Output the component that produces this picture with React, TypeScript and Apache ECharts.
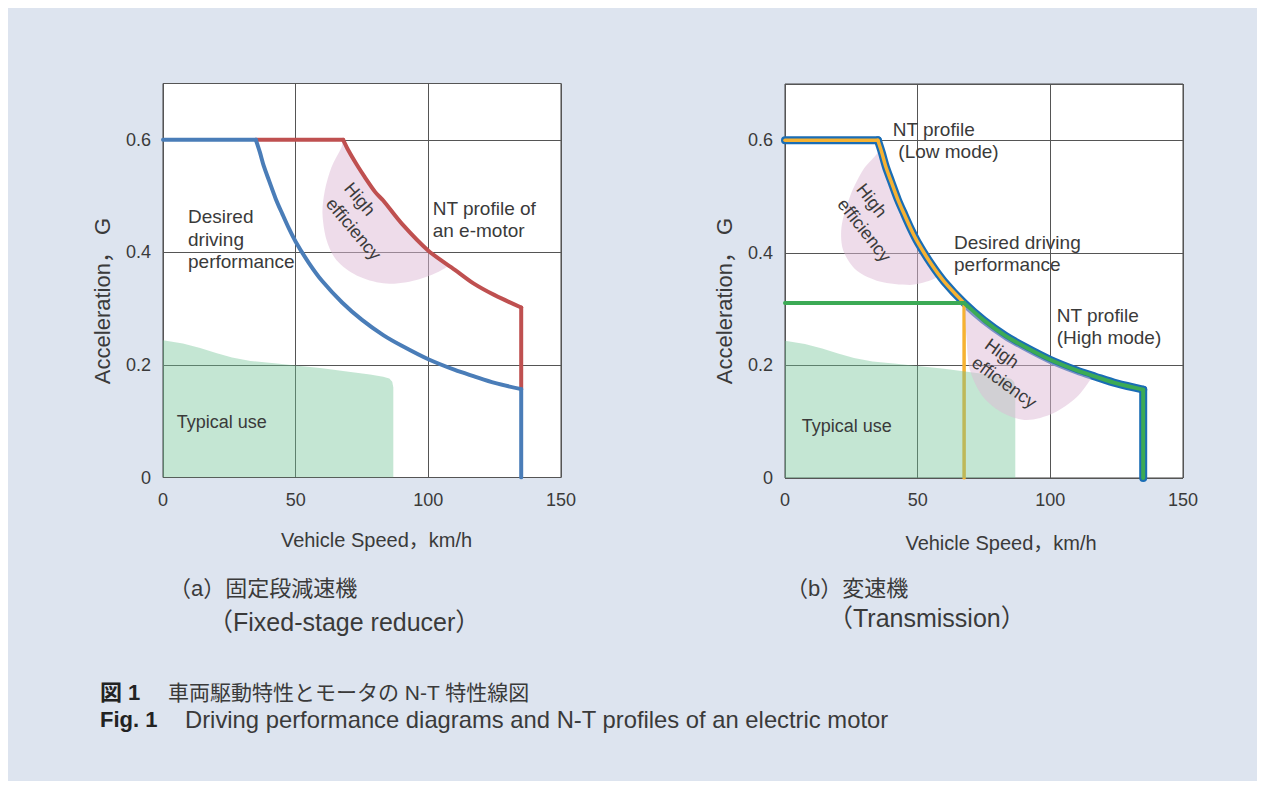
import React, { useEffect, useRef } from "react";
import * as echarts from "echarts";

// ---- data (km/h, G) ----
const speedTicks = [0, 50, 100, 150];
const accelTicks = [0, 0.2, 0.4, 0.6];
const accelMax = 0.7;

// desired driving performance (left chart, blue)
const desired: number[][] = [
  [0, 0.6], [35, 0.6], [36.5, 0.578], [38, 0.553], [40, 0.527], [42.5, 0.495], [45, 0.468],
  [47.5, 0.442], [50, 0.419], [55, 0.381], [60, 0.349], [67.5, 0.311], [75, 0.28], [83, 0.253],
  [90, 0.234], [100, 0.21], [110, 0.191], [117, 0.18], [125, 0.168], [135, 0.157], [135, 0],
];
// NT profile of an e-motor (left chart, red)
const motorNT: number[][] = [
  [35, 0.6], [67.9, 0.6], [70, 0.58], [73, 0.556], [76, 0.534], [80, 0.507], [83, 0.492],
  [90, 0.451], [100, 0.403], [110, 0.369], [117, 0.345], [125, 0.324], [135, 0.302], [135, 0.158],
];
// transmission: low mode (orange) and high mode (green)
const lowMode: number[][] = [
  [0, 0.6], [35, 0.6], [36.5, 0.578], [38, 0.553], [40, 0.527], [42.5, 0.495], [45, 0.468],
  [47.5, 0.442], [50, 0.419], [55, 0.381], [60, 0.349], [67.5, 0.311], [67.5, 0],
];
const highMode: number[][] = [
  [0, 0.311], [67.5, 0.311], [75, 0.28], [83, 0.253], [90, 0.234], [100, 0.21], [110, 0.191],
  [117, 0.18], [125, 0.168], [135, 0.157], [135, 0],
];
// typical use region
const typicalUse: number[][] = [
  [0, 0], [0, 0.244], [7.5, 0.238], [14, 0.23], [20, 0.221], [26, 0.213], [33, 0.207], [42, 0.203],
  [50, 0.199], [60, 0.194], [70, 0.188], [78, 0.183], [83, 0.179], [85.3, 0.176], [86.4, 0.17],
  [86.8, 0.16], [86.8, 0],
];
// high efficiency regions
const effMotor: number[][] = [
  [67.3, 0.587], [63.5, 0.551], [61.0, 0.51], [60.1, 0.469], [61.7, 0.421], [65.4, 0.386],
  [73, 0.359], [83, 0.345], [91.8, 0.347], [100.6, 0.359], [106.9, 0.374], [106.9, 0.381],
  [100, 0.403], [90, 0.451], [83, 0.492], [76, 0.534], [70, 0.58], [67.9, 0.6],
];
const effLow: number[][] = [
  [36, 0.588], [34.5, 0.575], [29.4, 0.547], [24.4, 0.499], [21.3, 0.446], [21.9, 0.405],
  [26.9, 0.369], [35.7, 0.349], [47.1, 0.343], [53.4, 0.349], [57.1, 0.357], [56.5, 0.368],
  [49.5, 0.419], [44.5, 0.468], [39.5, 0.527], [36.5, 0.57],
];
const effHigh: number[][] = [
  [67.8, 0.302], [68.4, 0.251], [69.7, 0.192], [74.7, 0.144], [82.3, 0.115], [91.1, 0.103],
  [101.1, 0.115], [110, 0.144], [115, 0.174], [115, 0.178], [110, 0.186], [100, 0.205],
  [90, 0.229], [83, 0.248], [75, 0.275], [68.5, 0.302],
];

const FONT = "'Liberation Sans', 'Noto Sans CJK JP', sans-serif";
const TXT = "#3a3a3a";

function polygon(idx: number, pts: number[][], fill: string, z: number, smooth = 0) {
  return {
    type: "custom",
    xAxisIndex: idx,
    yAxisIndex: idx,
    z,
    silent: true,
    clip: true,
    data: [[0, 0]],
    renderItem: (_p: any, api: any) => ({
      type: "polygon",
      shape: { points: pts.map((p) => api.coord(p)), smooth },
      style: { fill },
    }),
  };
}

// split a path into straight (flat / vertical) runs and curved runs
function splitPath(pts: number[][]) {
  const segs: { pts: number[][]; curved: boolean }[] = [];
  for (let i = 0; i < pts.length - 1; i++) {
    const a = pts[i];
    const b = pts[i + 1];
    const curved = a[0] !== b[0] && a[1] !== b[1];
    const last = segs[segs.length - 1];
    if (last && last.curved === curved) last.pts.push(b);
    else segs.push({ pts: [a, b], curved });
  }
  return segs;
}

function lines(idx: number, pts: number[][], color: string, width: number, z: number) {
  return splitPath(pts).map((s) => ({
    type: "line",
    xAxisIndex: idx,
    yAxisIndex: idx,
    z,
    silent: true,
    data: s.pts,
    symbol: "none",
    showSymbol: false,
    smooth: s.curved ? 0.3 : false,
    lineStyle: { color, width, cap: "round", join: "round" },
  }));
}

function txt(text: string, x: number, y: number, o: any = {}) {
  return {
    type: "text",
    x,
    y,
    rotation: o.rotation || 0,
    z: 100,
    silent: true,
    style: {
      text,
      fill: o.fill || TXT,
      fontSize: o.fontSize || 19,
      fontFamily: FONT,
      fontWeight: o.fontWeight || "normal",
      align: o.align || "left",
      verticalAlign: o.verticalAlign || "middle",
      lineHeight: o.lineHeight,
    },
  };
}

const deg = Math.PI / 180;

export default function App() {
  const ref = useRef<HTMLDivElement>(null);
  useEffect(() => {
    document.body.style.margin = "0";
    const chart = echarts.init(ref.current!, null, { renderer: "svg" });
    const xAxisBase = (gi: number) => ({
      type: "value",
      gridIndex: gi,
      min: speedTicks[0],
      max: speedTicks[speedTicks.length - 1],
      interval: speedTicks[1] - speedTicks[0],
      axisLine: { show: false },
      axisTick: { show: false },
      splitLine: { show: true, lineStyle: { color: "#555", width: 1 } },
      axisLabel: { color: TXT, fontSize: 18, fontFamily: FONT, margin: 13 },
    });
    const yAxisBase = (gi: number) => ({
      type: "value",
      gridIndex: gi,
      min: accelTicks[0],
      max: accelMax,
      interval: accelTicks[1] - accelTicks[0],
      axisLine: { show: false },
      axisTick: { show: false },
      splitLine: { show: true, lineStyle: { color: "#555", width: 1 } },
      axisLabel: {
        color: TXT,
        fontSize: 18,
        fontFamily: FONT,
        margin: 12,
        formatter: (v: number) =>
          v > accelTicks[accelTicks.length - 1] + 0.05 ? "" : String(Math.round(v * 10) / 10),
      },
    });
    const gridBase = {
      show: true,
      backgroundColor: "#ffffff",
      borderColor: "#444",
      borderWidth: 1,
      containLabel: false,
    };
    const option: any = {
      animation: false,
      textStyle: { fontFamily: FONT },
      grid: [
        { ...gridBase, left: 163, top: 83.5, width: 398, height: 394 },
        { ...gridBase, left: 785, top: 84, width: 398, height: 394 },
      ],
      xAxis: [xAxisBase(0), xAxisBase(1)],
      yAxis: [yAxisBase(0), yAxisBase(1)],
      series: [
        // left chart
        polygon(0, typicalUse, "rgba(108,193,145,0.4)", 3),
        polygon(0, effMotor, "rgba(221,185,213,0.5)", 4, 0.3),
        ...lines(0, motorNT, "#bf5050", 4, 6),
        ...lines(0, desired, "#4a7db8", 4, 7),
        // right chart
        polygon(1, effLow, "rgba(221,185,213,0.5)", 4, 0.3),
        ...lines(1, desired, "#1a6db5", 8, 5),
        ...lines(1, lowMode, "#f6b232", 3.5, 6),
        ...lines(1, highMode, "#3caa55", 4, 7),
        polygon(1, typicalUse, "rgba(108,193,145,0.4)", 8),
        polygon(1, effHigh, "rgba(221,185,213,0.5)", 9, 0.3),
      ],
      graphic: [
        // axis names
        txt("Vehicle Speed，km/h", 376.5, 540, { align: "center", fontSize: 20 }),
        txt("Vehicle Speed，km/h", 1001, 543, { align: "center", fontSize: 20 }),
        txt("Acceleration， G", 102, 301, { align: "center", fontSize: 22, rotation: 90 * deg }),
        txt("Acceleration， G", 724, 301, { align: "center", fontSize: 22, rotation: 90 * deg }),
        // left chart labels
        txt("Desired\ndriving\nperformance", 188, 205.5, { verticalAlign: "top", lineHeight: 22.5 }),
        txt("NT profile of\nan e-motor", 432.7, 197, { verticalAlign: "top", lineHeight: 22.4 }),
        txt("Typical use", 176.7, 421.7, { fontSize: 18 }),
        txt("High\nefficiency", 338.7, 192.6, { rotation: -50 * deg, lineHeight: 24, fontSize: 18 }),
        // right chart labels
        txt("NT profile", 892.7, 129.3),
        txt("(Low mode)", 898.3, 151.7),
        txt("Desired driving\nperformance", 954, 231.5, { verticalAlign: "top", lineHeight: 22.3 }),
        txt("NT profile\n(High mode)", 1056.7, 305, { verticalAlign: "top", lineHeight: 21.7 }),
        txt("Typical use", 801.7, 426, { fontSize: 18 }),
        txt("High\nefficiency", 850.8, 193.3, { rotation: -52 * deg, lineHeight: 24, fontSize: 18 }),
        txt("High\nefficiency", 980.5, 351.5, { rotation: -36 * deg, lineHeight: 22, fontSize: 18 }),
        // sub captions
        txt("（a）固定段減速機", 169, 588, { fontSize: 22 }),
        txt("（Fixed-stage reducer）", 208, 622, { fontSize: 25 }),
        txt("（b）変速機", 786, 588, { fontSize: 22 }),
        txt("（Transmission）", 828, 618, { fontSize: 25 }),
        // figure caption
        txt("図 1", 100, 692, { fontSize: 22, fontWeight: "bold", fill: "#222" }),
        txt("車両駆動特性とモータの N-T 特性線図", 168, 692, { fontSize: 21 }),
        txt("Fig. 1", 100, 719, { fontSize: 22, fontWeight: "bold", fill: "#222" }),
        txt("Driving performance diagrams and N-T profiles of an electric motor", 185, 719, {
          fontSize: 23.8,
        }),
      ],
    };
    chart.setOption(option);
    return () => chart.dispose();
  }, []);
  return (
    <div style={{ position: "relative", width: 1265, height: 789, background: "#fff", overflow: "hidden" }}>
      <div style={{ position: "absolute", left: 8, top: 8, width: 1249, height: 773, background: "#dde4ef" }} />
      <div ref={ref} style={{ position: "absolute", left: 0, top: 0, width: 1265, height: 789 }} />
    </div>
  );
}
